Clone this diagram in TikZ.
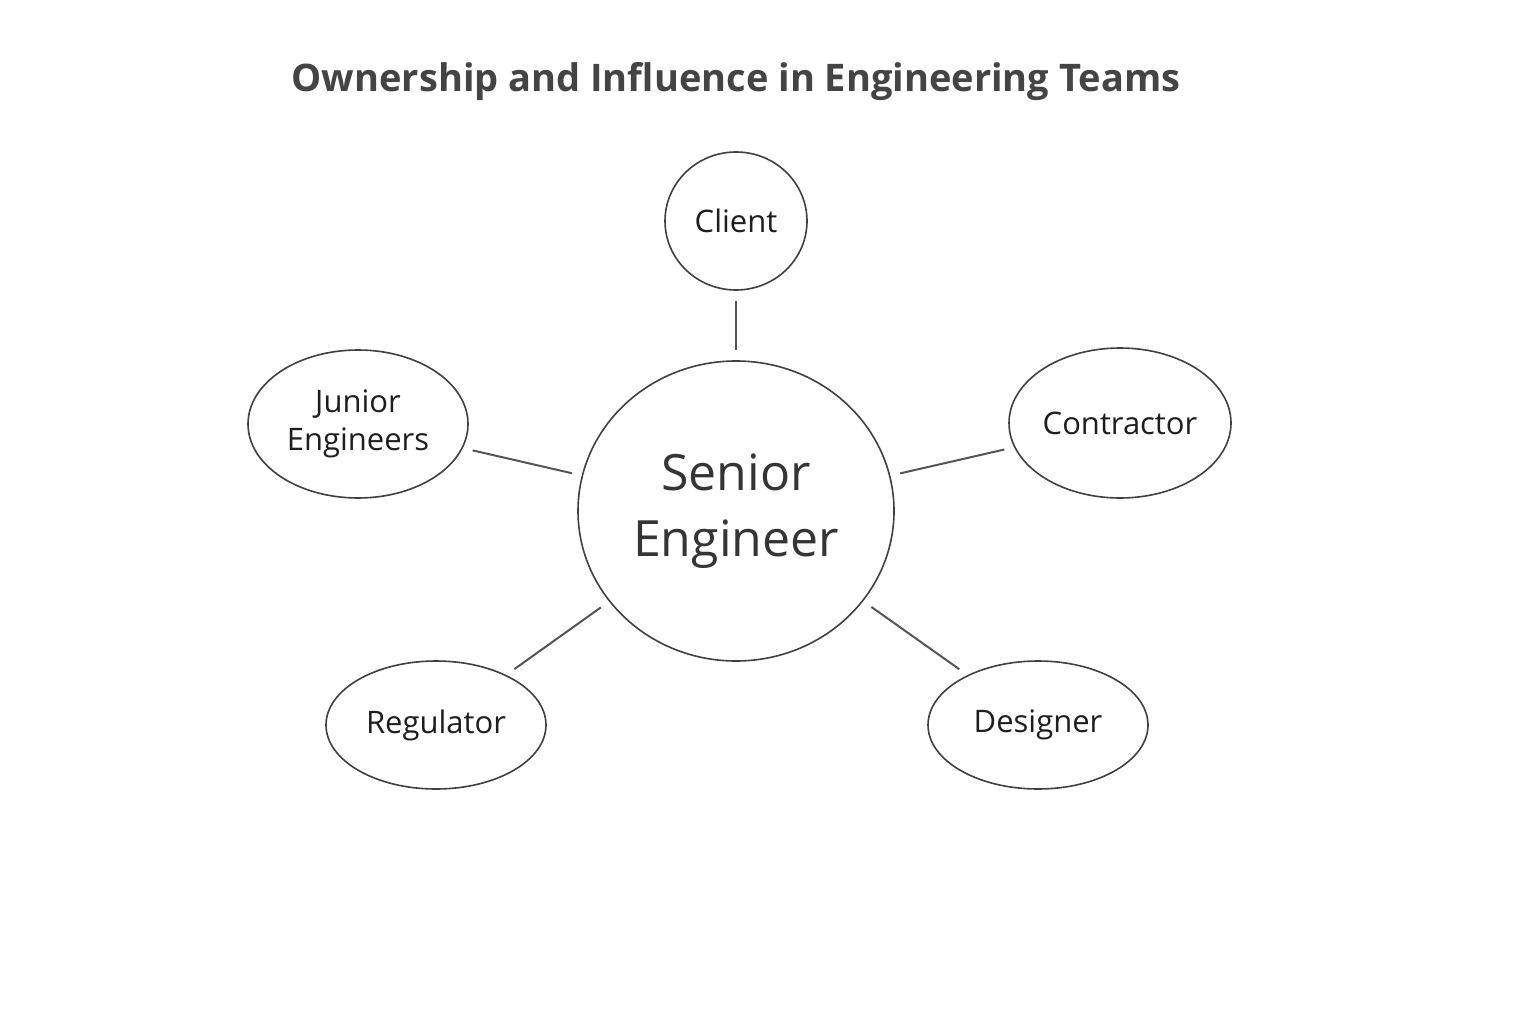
\documentclass[tikz,border=0pt]{standalone}
\usepackage{fontspec}
\setmainfont{Open Sans}
\usetikzlibrary{shapes.geometric}
\definecolor{tcol}{HTML}{444444}
\definecolor{ncol}{HTML}{1E1E1E}
\definecolor{lcol}{HTML}{555555}
\begin{document}
\begin{tikzpicture}[x=1pt,y=-1pt,
  ell/.style={ellipse,draw=ncol!85,line width=1.6pt,inner sep=0pt,align=center,text=ncol,font=\fontsize{31}{38}\selectfont},
  link/.style={draw=lcol,line width=2pt,shorten <=10pt,shorten >=10pt}]
\useasboundingbox[fill=white] (0,0) rectangle (1536,1024);
\node[font=\bfseries\fontsize{38}{44}\selectfont,text=tcol] (title) at (736,82) {Ownership and Influence in Engineering Teams};
\node[ell,minimum width=142pt,minimum height=138pt] (client) at (736,221) {Client};
\node[ell,minimum width=316pt,minimum height=300pt,font=\fontsize{50}{66}\selectfont,text=ncol!90] (senior) at (736,511) {Senior\\Engineer};
\node[ell,minimum width=220pt,minimum height=148pt] (junior) at (358,424) {Junior\\Engineers};
\node[ell,minimum width=222pt,minimum height=150pt] (contr) at (1120,423) {Contractor};
\node[ell,minimum width=220pt,minimum height=128pt] (reg) at (436,725) {Regulator};
\node[ell,minimum width=220pt,minimum height=128pt] (des) at (1038,725) {Designer};
\draw[link] (client) -- (senior);
\draw[link] (junior) -- (senior);
\draw[link] (contr) -- (senior);
\draw[link] (reg) -- (senior);
\draw[link] (des) -- (senior);
\end{tikzpicture}
\end{document}
